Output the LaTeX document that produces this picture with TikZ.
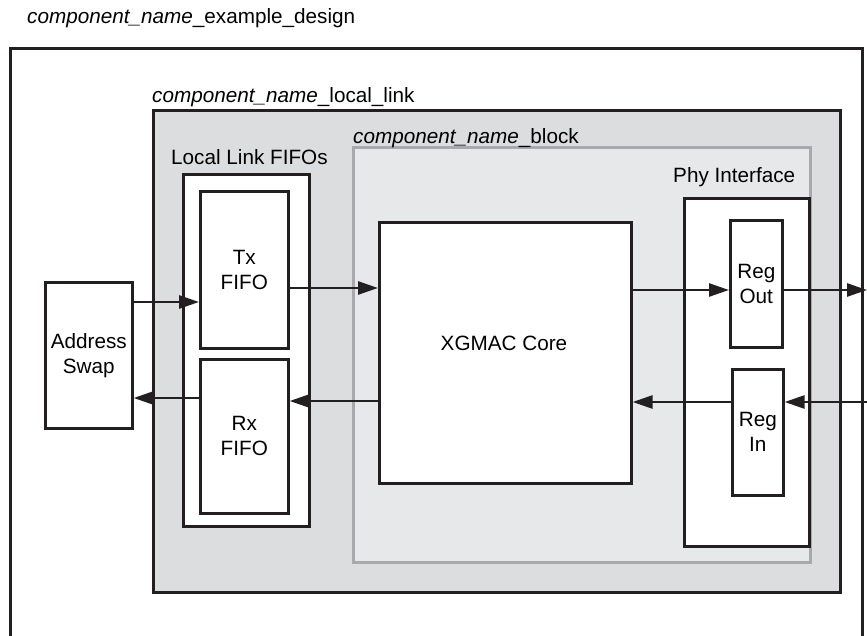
\documentclass[tikz,border=0pt]{standalone}
\usepackage{fontspec}
\setmainfont{Liberation Sans}
\usetikzlibrary{arrows.meta}
\definecolor{ink}{HTML}{231F20}
\definecolor{linkgray}{HTML}{DCDDDE}
\definecolor{blockgray}{HTML}{E7E8E9}
\definecolor{blockedge}{HTML}{A7A9AC}

\begin{document}
\begin{tikzpicture}[x=1pt,y=-1pt,
  every node/.style={font=\fontsize{20.7}{25}\selectfont, inner sep=0pt},
  blk/.style={draw=ink, line width=2.6pt, fill=white, align=center, anchor=north west},
  flow/.style={draw=ink, line width=2.6pt, -{Triangle[length=20pt,width=13pt]}},
  lbl/.style={anchor=base west}]
\useasboundingbox (0,0) rectangle (867,636);

% outer design frame (open at the bottom)
\draw[ink, line width=3pt] (10,640) |- (862,49) -- (862,640);

% local link wrapper and block
\node[draw=ink, line width=3pt, fill=linkgray, minimum width=687pt, minimum height=482pt, anchor=north west] (ll) at (152,109) {};
\node[draw=blockedge, line width=3pt, fill=blockgray, minimum width=457pt, minimum height=415pt, anchor=north west] (blk) at (352,146) {};

% FIFOs
\node[blk, minimum width=126pt, minimum height=352pt] (fifos) at (182,173) {};
\node[blk, minimum width=88pt, minimum height=157pt] (tx) at (199,190) {Tx\\FIFO};
\node[blk, minimum width=88pt, minimum height=154pt] (rx) at (199,358) {Rx\\FIFO};

% address swap
\node[blk, minimum width=87pt, minimum height=146pt] (addr) at (44,281) {Address\\Swap};

% core
\node[blk, minimum width=252pt, minimum height=261pt] (core) at (378,221) {};
\node (coretxt) at (504,343) {XGMAC Core};

% phy interface
\node[blk, minimum width=125pt, minimum height=348pt] (phy) at (683,197) {};
\node[blk, minimum width=52pt, minimum height=127pt] (regout) at (729,219) {Reg\\Out};
\node[blk, minimum width=51pt, minimum height=126pt] (regin) at (731,368) {Reg\\In};

% titles
\node[lbl] (ttl) at (27,24) {\textit{component\_name}\_example\_design};
\node[lbl] (lltitle) at (152,103) {\textit{component\_name}\_local\_link};
\node[lbl] (blktitle) at (353,144) {\textit{component\_name}\_block};
\node[anchor=base west] (fifolbl) at (171,165) {Local Link FIFOs};
\node[anchor=base west] (phylbl) at (673,183) {Phy Interface};

% external ports
\coordinate (eout) at (867,290);
\coordinate (ein) at (867,402);

% data paths
\draw[flow] (addr.east |- 0,302) -- (tx.west |- 0,302);
\draw[flow] (rx.west |- 0,398) -- (addr.east |- 0,398);
\draw[flow] (tx.east |- 0,288) -- (core.west |- 0,288);
\draw[flow] (core.west |- 0,401) -- (rx.east |- 0,401);
\draw[flow] (core.east |- 0,290) -- (regout.west |- 0,290);
\draw[flow] (regout.east |- 0,290) -- (eout);
\draw[flow] (ein) -- (regin.east |- 0,402);
\draw[flow] (regin.west |- 0,402) -- (core.east |- 0,402);
\end{tikzpicture}
\end{document}
